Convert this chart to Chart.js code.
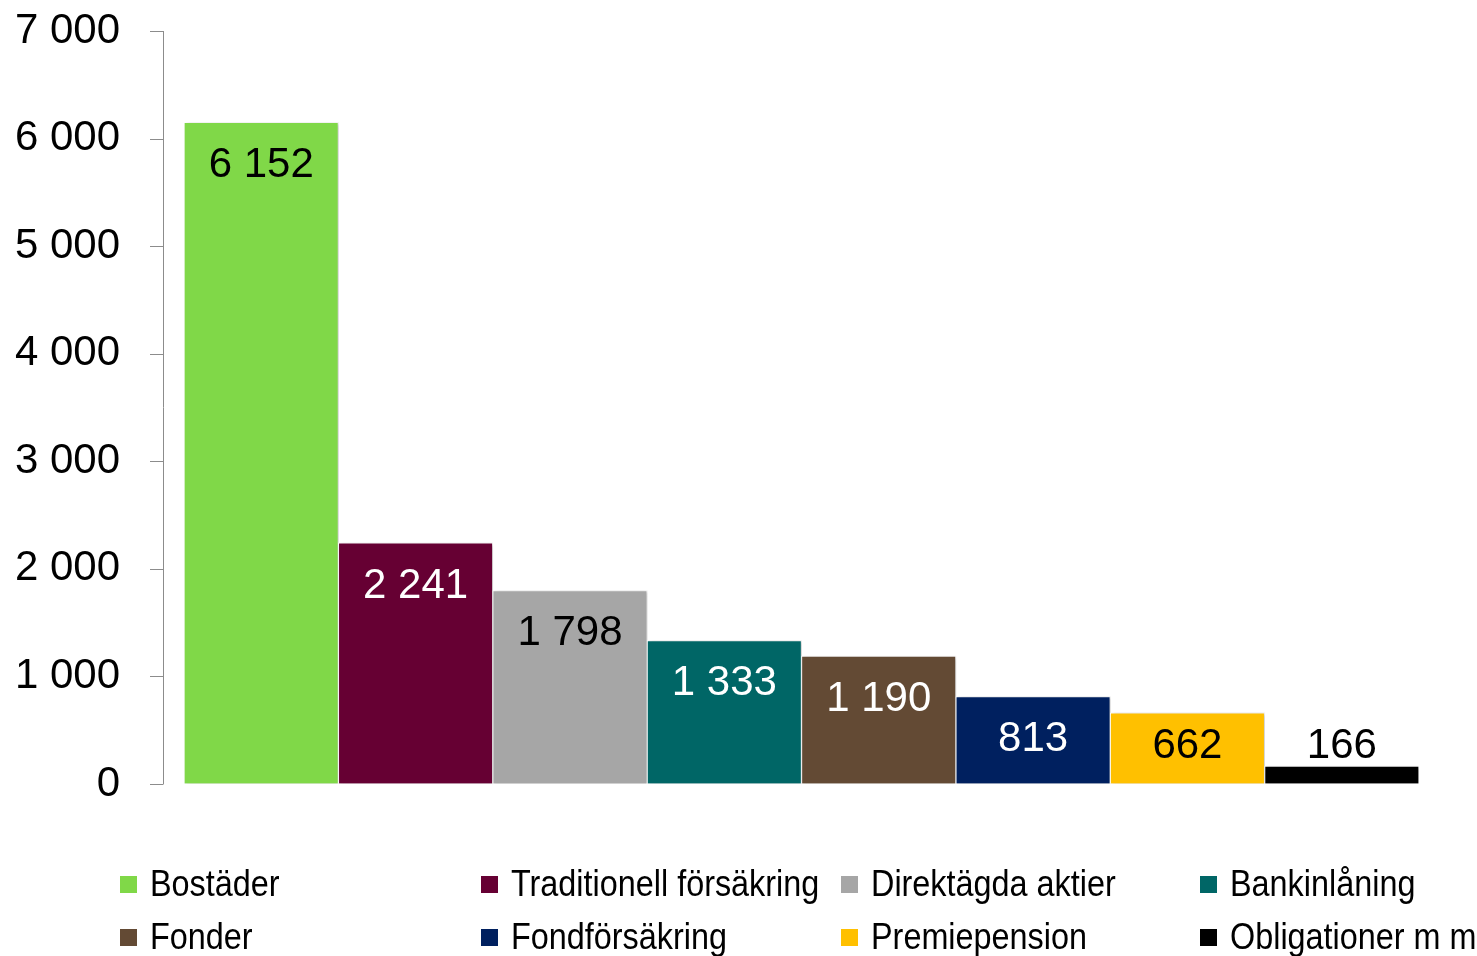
<!DOCTYPE html>
<html>
<head>
<meta charset="utf-8">
<script src="https://cdn.jsdelivr.net/npm/chart.js@4"></script>
<style>
  body { margin: 0; background: #fff; }
  #wrap { position: relative; width: 1477px; height: 956px; }
  #legend {
    position: absolute; left: 120px; top: 864px;
    display: grid; grid-template-columns: 361px 360px 359px 280px;
    row-gap: 13px;
    font-family: "Liberation Sans", sans-serif;
    font-size: 37px; color: #000;
  }
  #legend div { display: flex; align-items: center; white-space: nowrap; height: 40px; }
  #legend span.box { flex-shrink: 0; width: 17px; height: 17px; margin-right: 13px; display: inline-block; }
  #legend span.txt { display: inline-block; transform: scaleX(0.875); transform-origin: left center; }
</style>
</head>
<body>
<div id="wrap">
  <canvas id="chart" width="1477" height="956"></canvas>
  <div id="legend"></div>
</div>
<script>
// Data
const categories = ['Bostäder', 'Traditionell försäkring', 'Direktägda aktier', 'Bankinlåning',
    'Fonder', 'Fondförsäkring', 'Premiepension', 'Obligationer m m'];
const values = [6152, 2241, 1798, 1333, 1190, 813, 662, 166];
const barColors = ['#80d848', '#660033', '#a6a6a6', '#006666', '#634a34', '#00205f', '#ffc000', '#000000'];
const labelColors = ['#000', '#fff', '#000', '#fff', '#fff', '#fff', '#000', '#000'];
const yTicks = [0, 1000, 2000, 3000, 4000, 5000, 6000, 7000];

const fmt = (v) => String(v).replace(/\B(?=(\d{3})+(?!\d))/g, ' ');

// y axis line drawn a bit left of the bars
const axisPlugin = {
    id: 'axisLine',
    afterDraw(chart) {
        const { ctx, chartArea } = chart;
        const y = chart.scales.y;
        const x0 = chartArea.left - 21;
        ctx.save();
        ctx.strokeStyle = '#8c8c8c';
        ctx.lineWidth = 1;
        ctx.beginPath();
        ctx.moveTo(x0 + 0.5, y.getPixelForValue(7000));
        ctx.lineTo(x0 + 0.5, y.getPixelForValue(0));
        yTicks.forEach(t => {
            const py = Math.round(y.getPixelForValue(t)) + 0.5;
            ctx.moveTo(x0 - 13, py);
            ctx.lineTo(x0 + 0.5, py);
        });
        ctx.stroke();
        ctx.restore();
    }
};

// soft shadow behind the bars
const shadowPlugin = {
    id: 'barShadow',
    beforeDatasetsDraw(chart) {
        const ctx = chart.ctx;
        ctx.save();
        ctx.shadowColor = 'rgba(0,0,0,0.22)';
        ctx.shadowBlur = 4;
        ctx.shadowOffsetX = 2;
        ctx.shadowOffsetY = 1;
    },
    afterDatasetsDraw(chart) {
        chart.ctx.restore();
    }
};

// value labels near the top of each bar
const labelPlugin = {
    id: 'valueLabels',
    afterDatasetsDraw(chart) {
        const { ctx } = chart;
        const meta = chart.getDatasetMeta(0);
        ctx.save();
        ctx.font = '42px "Liberation Sans", sans-serif';
        ctx.textAlign = 'center';
        ctx.textBaseline = 'middle';
        meta.data.forEach((bar, i) => {
            const py = Math.min(bar.y + 43, chart.scales.y.getPixelForValue(0) - 38);
            ctx.fillStyle = labelColors[i];
            ctx.fillText(fmt(values[i]), bar.x, py);
        });
        ctx.restore();
    }
};

const config = {
    type: 'bar',
    data: {
        labels: categories,
        datasets: [{
            data: values,
            backgroundColor: barColors,
            borderColor: '#ffffff',
            borderWidth: 1,
            barPercentage: 1,
            categoryPercentage: 1
        }]
    },
    options: {
        responsive: false,
        animation: false,
        layout: { padding: { top: 31, right: 58, bottom: 172, left: 0 } },
        plugins: { legend: { display: false }, tooltip: { enabled: false } },
        scales: {
            x: { display: false },
            y: {
                min: 0, max: 7000,
                afterFit: (scale) => { scale.width = 184; },
                afterBuildTicks: (scale) => { scale.ticks = yTicks.map(v => ({ value: v })); },
                // invisible tick marks only used to push the labels left
                grid: { drawOnChartArea: false, drawTicks: true, tickLength: 64, color: 'rgba(0,0,0,0)' },
                border: { display: false },
                ticks: {
                    padding: 0,
                    color: '#000',
                    font: { family: '"Liberation Sans", sans-serif', size: 42 },
                    callback: (v) => fmt(v)
                }
            }
        }
    },
    plugins: [shadowPlugin, labelPlugin, axisPlugin]
};

const barChart = new Chart(document.getElementById('chart'), config);

// Legend, 4 columns x 2 rows
const legend = document.getElementById('legend');
categories.forEach((c, i) => {
    const item = document.createElement('div');
    item.innerHTML = '<span class="box" style="background:' + barColors[i] + '"></span><span class="txt">' + c + '</span>';
    legend.appendChild(item);
});
</script>
</body>
</html>
